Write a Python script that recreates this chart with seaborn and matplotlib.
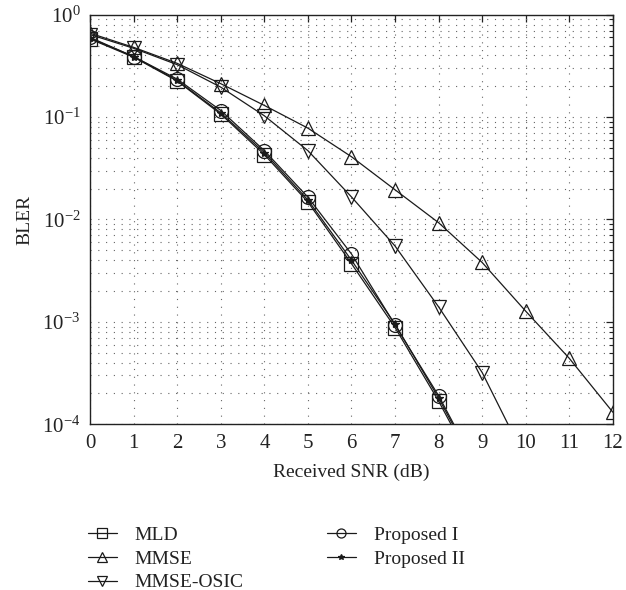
import numpy as np
import pandas as pd
import matplotlib
matplotlib.use("Agg")
import matplotlib.pyplot as plt
import seaborn as sns
from matplotlib.ticker import LogLocator, NullFormatter, FixedLocator

snr = [0, 1, 2, 3, 4, 5, 6, 7, 8, 9, 10, 11, 12]
mld = [0.58, 0.385, 0.225, 0.107, 0.043, 0.0148, 0.0037, 0.00088, 0.000168, 2.7e-5]
mmse = [0.66, 0.48, 0.335, 0.212, 0.130, 0.078, 0.041, 0.0195, 0.0093, 0.0038, 0.00127, 0.00044, 0.000131]
osic = [0.64, 0.47, 0.325, 0.196, 0.103, 0.047, 0.0166, 0.0055, 0.0014, 0.00032, 4.5e-5]
prop1 = [0.60, 0.39, 0.235, 0.116, 0.047, 0.0165, 0.0046, 0.00093, 0.00019, 3.0e-5]
prop2 = [0.59, 0.39, 0.228, 0.110, 0.045, 0.0155, 0.0040, 0.00095, 0.000180, 2.9e-5]

series = [
    ("MLD", mld, "s"),
    ("MMSE", mmse, "^"),
    ("MMSE-OSIC", osic, "v"),
    ("Proposed I", prop1, "o"),
    ("Proposed II", prop2, "*"),
]

sns.set_theme(style="white")
plt.rcParams["font.family"] = ["Liberation Serif", "DejaVu Serif"]
plt.rcParams["mathtext.fontset"] = "stix"

fig = plt.figure(figsize=(6.26, 5.90), dpi=100)
ax = fig.add_axes([0.144, 0.281, 0.835, 0.694])

for name, vals, mk in series:
    df = pd.DataFrame({"snr": snr[:len(vals)], "bler": vals})
    sns.lineplot(data=df, x="snr", y="bler", ax=ax, color="#1a1a1a", lw=0.9,
                 marker=mk, markersize=(6 if mk == "*" else 10),
                 markerfacecolor=("#1a1a1a" if mk == "*" else "none"),
                 markeredgecolor="#1a1a1a", markeredgewidth=0.9, label=name)

ax.set_yscale("log")
ax.set_xlim(0, 12)
ax.set_ylim(1e-4, 1)
ax.xaxis.set_major_locator(FixedLocator(range(13)))
ax.yaxis.set_major_locator(LogLocator(base=10, numticks=10))
ax.yaxis.set_minor_locator(LogLocator(base=10, subs=np.arange(2, 10), numticks=20))
ax.yaxis.set_minor_formatter(NullFormatter())
ax.grid(True, which="major", axis="both", linestyle=(0, (1, 6)), color="#666666", lw=0.8)
ax.grid(True, which="minor", axis="y", linestyle=(0, (1, 6)), color="#666666", lw=0.8)
ax.tick_params(which="both", direction="in", top=True, right=True, colors="#222222",
               labelsize=15, labelcolor="#222222")
ax.tick_params(which="major", length=5, width=0.9, pad=7)
ax.tick_params(which="minor", length=3, width=0.8)
for sp in ax.spines.values():
    sp.set_color("#222222")
    sp.set_linewidth(1.0)
ax.set_xlabel("Received SNR (dB)", fontsize=14, color="#222222", labelpad=8)
ax.set_ylabel("BLER", fontsize=14, color="#222222", labelpad=6)

h, l = ax.get_legend_handles_labels()
if ax.legend_:
    ax.legend_.remove()
fig.legend(h, l, ncol=2, loc="upper left",
           bbox_to_anchor=(0.112, 0.138), frameon=False, fontsize=14,
           handlelength=1.5, columnspacing=4.3, labelspacing=0.32, handletextpad=0.9,
           markerscale=0.65, labelcolor="#222222")

fig.savefig("out.png", dpi=100)
